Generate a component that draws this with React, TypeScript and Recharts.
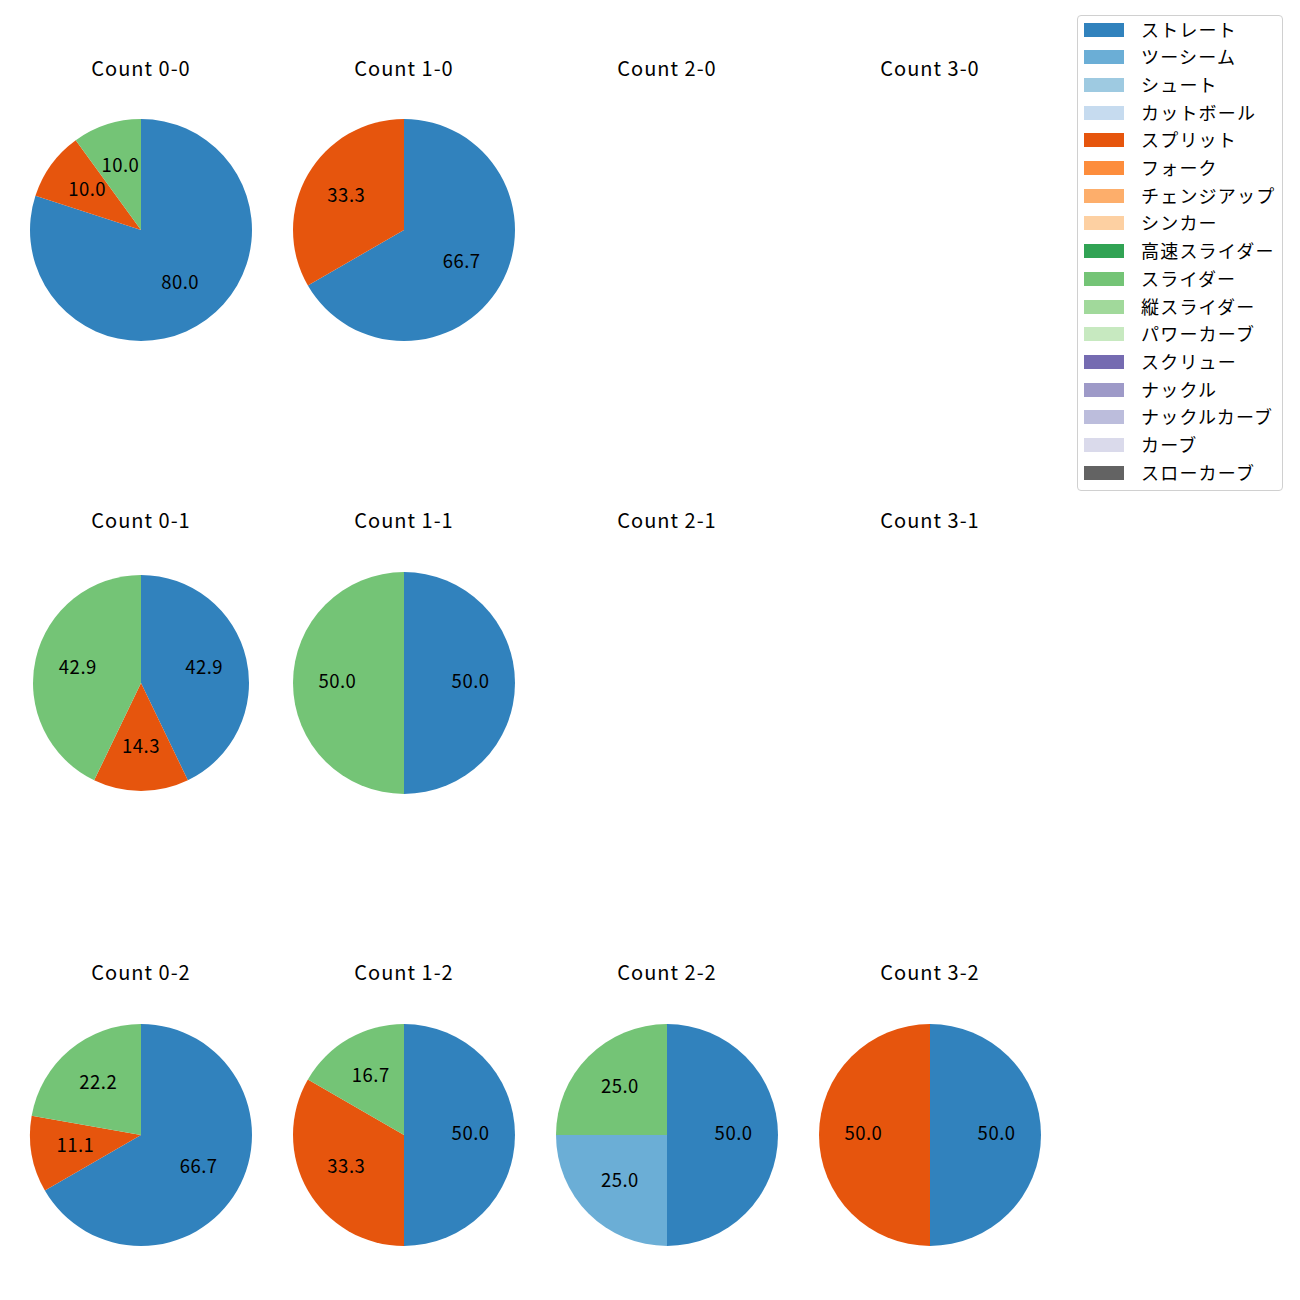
import { PieChart, Pie, Cell } from "recharts";

const pitchTypes = [
  "ストレート",
  "ツーシーム",
  "シュート",
  "カットボール",
  "スプリット",
  "フォーク",
  "チェンジアップ",
  "シンカー",
  "高速スライダー",
  "スライダー",
  "縦スライダー",
  "パワーカーブ",
  "スクリュー",
  "ナックル",
  "ナックルカーブ",
  "カーブ",
  "スローカーブ",
];

const pitchColors = [
  "#3182bd", "#6baed6", "#9ecae1", "#c6dbef",
  "#e6550d", "#fd8d3c", "#fdae6b", "#fdd0a2",
  "#31a354", "#74c476", "#a1d99b", "#c7e9c0",
  "#756bb1", "#9e9ac8", "#bcbddc", "#dadaeb",
  "#636363",
];

// pitch counts per ball-strike count, in pitchTypes order
const count00 = [8, 0, 0, 0, 1, 0, 0, 0, 0, 1, 0, 0, 0, 0, 0, 0, 0];
const count10 = [2, 0, 0, 0, 1, 0, 0, 0, 0, 0, 0, 0, 0, 0, 0, 0, 0];
const count20: number[] = [];
const count30: number[] = [];
const count01 = [3, 0, 0, 0, 1, 0, 0, 0, 0, 3, 0, 0, 0, 0, 0, 0, 0];
const count11 = [1, 0, 0, 0, 0, 0, 0, 0, 0, 1, 0, 0, 0, 0, 0, 0, 0];
const count21: number[] = [];
const count31: number[] = [];
const count02 = [6, 0, 0, 0, 1, 0, 0, 0, 0, 2, 0, 0, 0, 0, 0, 0, 0];
const count12 = [3, 0, 0, 0, 2, 0, 0, 0, 0, 1, 0, 0, 0, 0, 0, 0, 0];
const count22 = [2, 1, 0, 0, 0, 0, 0, 0, 0, 1, 0, 0, 0, 0, 0, 0, 0];
const count32 = [1, 0, 0, 0, 1, 0, 0, 0, 0, 0, 0, 0, 0, 0, 0, 0, 0];

const panels = [
  { title: "Count 0-0", counts: count00, col: 0, row: 0 },
  { title: "Count 1-0", counts: count10, col: 1, row: 0 },
  { title: "Count 2-0", counts: count20, col: 2, row: 0 },
  { title: "Count 3-0", counts: count30, col: 3, row: 0 },
  { title: "Count 0-1", counts: count01, col: 0, row: 1, r: 108 },
  { title: "Count 1-1", counts: count11, col: 1, row: 1 },
  { title: "Count 2-1", counts: count21, col: 2, row: 1 },
  { title: "Count 3-1", counts: count31, col: 3, row: 1 },
  { title: "Count 0-2", counts: count02, col: 0, row: 2 },
  { title: "Count 1-2", counts: count12, col: 1, row: 2 },
  { title: "Count 2-2", counts: count22, col: 2, row: 2 },
  { title: "Count 3-2", counts: count32, col: 3, row: 2 },
];

const COL_X = [141, 404, 667, 930];
const ROW_Y = [229.5, 682.5, 1134.5];
const TITLE_Y = [68, 520, 972];
const FONT = "'Noto Sans CJK JP', 'Noto Sans', sans-serif";
const RADIAN = Math.PI / 180;
const BOX = 240;

const renderPct = (props: any) => {
  const { cx, cy, midAngle, outerRadius, percent } = props;
  const d = outerRadius * 0.6;
  const x = cx + d * Math.cos(-midAngle * RADIAN);
  const y = cy + d * Math.sin(-midAngle * RADIAN) - 3;
  return (
    <text
      x={x}
      y={y}
      textAnchor="middle"
      dominantBaseline="central"
      fill="#000"
      fontSize={18.5}
      fontFamily={FONT}
      letterSpacing={0.5}
    >
      {(percent * 100).toFixed(1)}
    </text>
  );
};

function Panel({ title, counts, col, row, r = 111 }: any) {
  const data = counts
    .map((v: number, i: number) => ({ name: pitchTypes[i], value: v, color: pitchColors[i] }))
    .filter((d: any) => d.value > 0);
  const cx = COL_X[col];
  const cy = ROW_Y[row];
  return (
    <>
      <div
        style={{
          position: "absolute",
          left: cx - 100,
          width: 200,
          top: TITLE_Y[row] - 14,
          height: 28,
          lineHeight: "28px",
          textAlign: "center",
          fontSize: 20,
          letterSpacing: 1,
          fontFamily: FONT,
          color: "#000",
        }}
      >
        {title}
      </div>
      {data.length > 0 && (
        <div style={{ position: "absolute", left: cx - BOX / 2, top: cy - BOX / 2 }}>
          <PieChart width={BOX} height={BOX} margin={{ top: 0, right: 0, bottom: 0, left: 0 }}>
            <Pie
              data={data}
              dataKey="value"
              cx={BOX / 2}
              cy={BOX / 2}
              outerRadius={r}
              startAngle={90}
              endAngle={-270}
              stroke="none"
              labelLine={false}
              label={renderPct}
              isAnimationActive={false}
            >
              {data.map((d: any) => (
                <Cell key={d.name} fill={d.color} />
              ))}
            </Pie>
          </PieChart>
        </div>
      )}
    </>
  );
}

export default function App() {
  return (
    <div
      style={{
        position: "absolute",
        left: 0,
        top: 0,
        width: 1300,
        height: 1300,
        background: "#fff",
        overflow: "hidden",
      }}
    >
      {panels.map((p) => (
        <Panel key={p.title} {...p} />
      ))}
      {/* Legend */}
      <div
        style={{
          position: "absolute",
          left: 1077,
          top: 15,
          width: 204,
          height: 474,
          border: "1px solid #d0d0d0",
          borderRadius: 4,
          background: "#fff",
        }}
      >
        {pitchTypes.map((name, i) => (
          <div
            key={name}
            style={{
              position: "absolute",
              left: 0,
              top: 13.5 + i * 27.7 - 14,
              height: 28,
              display: "flex",
              alignItems: "center",
            }}
          >
            <div
              style={{
                marginLeft: 6,
                width: 40,
                height: 14,
                background: pitchColors[i],
              }}
            />
            <span
              style={{
                marginLeft: 17,
                fontSize: 18,
                letterSpacing: 1.2,
                fontFamily: FONT,
                color: "#000",
                whiteSpace: "nowrap",
                position: "relative",
                top: -1,
              }}
            >
              {name}
            </span>
          </div>
        ))}
      </div>
    </div>
  );
}
